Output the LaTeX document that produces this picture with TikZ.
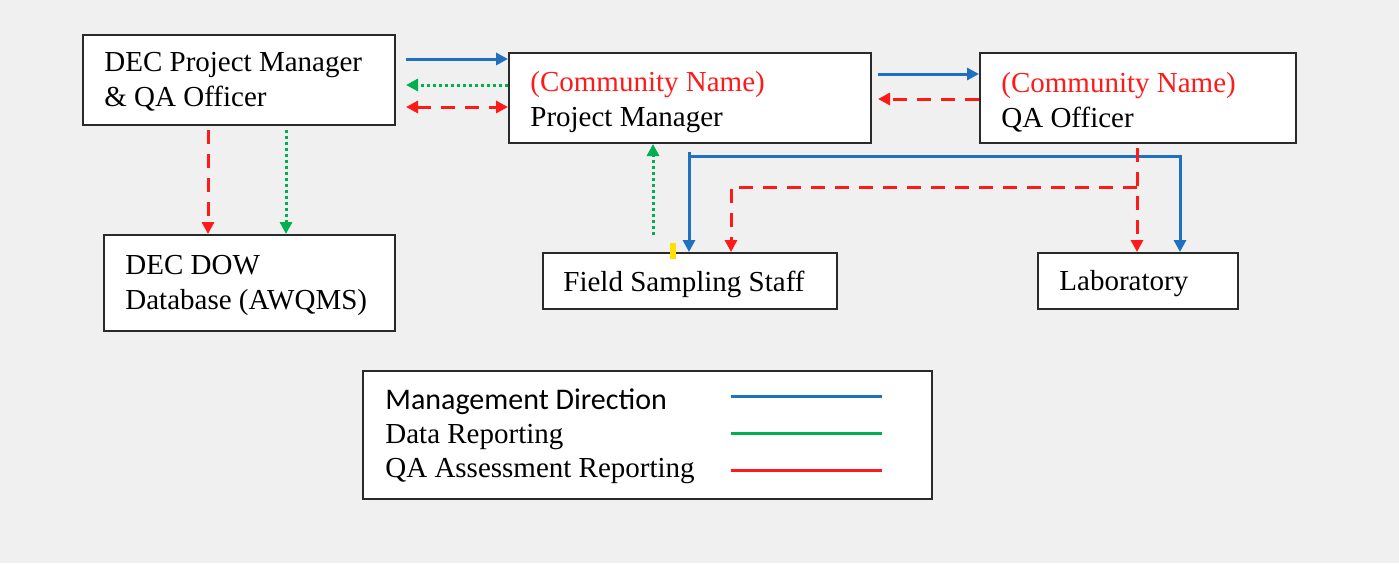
\documentclass[tikz,border=0pt]{standalone}
\usepackage{fontspec}
\setmainfont{Liberation Serif}
\newfontfamily\calfont{Carlito}
\usetikzlibrary{arrows.meta,calc}
\definecolor{mblue}{HTML}{1F70C1}
\definecolor{dgreen}{HTML}{00B050}
\definecolor{qred}{HTML}{FF1A1A}
\definecolor{bggray}{HTML}{F0F0F0}
\definecolor{boxline}{HTML}{2A2A2A}
\definecolor{ymark}{HTML}{FFE000}
\begin{document}
\begin{tikzpicture}[x=0.5pt,y=-0.5pt,
  box/.style={draw=boxline,line width=1pt,fill=white,anchor=north west,inner sep=0pt},
  boxtext/.style={anchor=west,inner sep=0pt,align=left,
    font=\fontsize{14.5}{17.5}\selectfont},
  tip/.style={-{Triangle[length=6pt,width=6pt]}},
  mgmt/.style={mblue,line width=1.5pt},
  data/.style={dgreen,line width=1.5pt,dash pattern=on 1.5pt off 1.5pt},
  qa/.style={qred,line width=1.5pt,dash pattern=on 7pt off 5pt},
  legtext/.style={anchor=west,inner sep=0pt,font=\fontsize{14.5}{17.5}\selectfont}]
\fill[bggray] (0,0) rectangle (1399,563);
\useasboundingbox (0,0) rectangle (1399,563);

% boxes
\node[box,minimum width=156pt,minimum height=45pt] (A) at (82,34) {};
\node[boxtext] (tA) at ([xshift=11pt,yshift=-1pt]A.west) {DEC Project Manager\\\& QA Officer};
\node[box,minimum width=181pt,minimum height=45pt] (B) at (508,52) {};
\node[boxtext] (tB) at ([xshift=11pt,yshift=-2pt]B.west)
  {\textcolor{qred}{(Community Name)}\\Project Manager};
\node[box,minimum width=158pt,minimum height=45pt] (C) at (979,52) {};
\node[boxtext] (tC) at ([xshift=11pt,yshift=-2pt]C.west)
  {\textcolor{qred}{(Community Name)}\\QA Officer};
\node[box,minimum width=145.5pt,minimum height=48pt] (D) at (103,234) {};
\node[boxtext] (tD) at ([xshift=11pt,yshift=-1pt]D.west) {DEC DOW\\Database (AWQMS)};
\node[box,minimum width=147pt,minimum height=28pt] (E) at (542,252) {};
\node[boxtext] (tE) at ([xshift=10.5pt,yshift=-1.5pt]E.west) {Field Sampling Staff};
\node[box,minimum width=100pt,minimum height=28pt] (F) at (1037,252) {};
\node[boxtext] (tF) at ([xshift=11pt,yshift=-1.5pt]F.west) {Laboratory};

% horizontal connectors
\draw[mgmt,tip,shorten <=5pt] (A.east |- 0,59) -- (B.west |- 0,59);
\draw[data,tip,shorten >=5pt] (B.west |- 0,85) -- (A.east |- 0,85);
\draw[qa,{Triangle[length=6pt,width=6pt]}-{Triangle[length=6pt,width=6pt]},shorten <=5pt]
  (A.east |- 0,107) -- (B.west |- 0,107);
\draw[mgmt,tip,shorten <=3pt] (B.east |- 0,74) -- (C.west |- 0,74);
\draw[qa,tip,shorten >=3pt] (C.west |- 0,99) -- (B.east |- 0,99);

% vertical connectors A -> D
\draw[qa,tip,shorten <=2pt] (A.south -| 208,0) -- (D.north -| 208,0);
\draw[data,tip,shorten <=2pt] (A.south -| 286,0) -- (D.north -| 286,0);

% E -> B data
\draw[data,tip,shorten <=8.5pt] (E.north -| 653,0) -- (B.south -| 653,0);

% management tree
\coordinate (bj) at (689,156);
\coordinate (bk) at (1180,0);
\draw[mgmt,tip,shorten <=4pt] (B.south -| bj) -- (E.north -| bj);
\draw[mgmt,tip] (bj) -| (F.north -| bk);

% QA tree
\coordinate (rj) at (1137,187);
\coordinate (rk) at (731,0);
\draw[qa,tip,shorten <=2pt] (C.south -| rj) -- (F.north -| rj);
\draw[qa,tip] (rj) -| (E.north -| rk);

% yellow mark
\fill[ymark] (670,243) rectangle (676,259);

% legend
\node[draw=boxline,line width=1pt,fill=white,anchor=north west,
  minimum width=284.5pt,minimum height=64pt,inner sep=0pt] (L) at (362,370) {};
\node[legtext] (l1) at (385,402) {\calfont\fontsize{15}{17.5}\selectfont Management Direction};
\node[legtext] (l2) at (385,437) {Data Reporting};
\node[legtext] (l3) at (385,471) {QA Assessment Reporting};
\coordinate (m1) at (731,396); \coordinate (m2) at (882,396);
\coordinate (d1) at (731,433); \coordinate (d2) at (882,433);
\coordinate (q1) at (731,470); \coordinate (q2) at (882,470);
\draw[mblue,line width=1.5pt] (m1) -- (m2);
\draw[dgreen,line width=1.5pt] (d1) -- (d2);
\draw[qred,line width=1.5pt] (q1) -- (q2);
\end{tikzpicture}
\end{document}
